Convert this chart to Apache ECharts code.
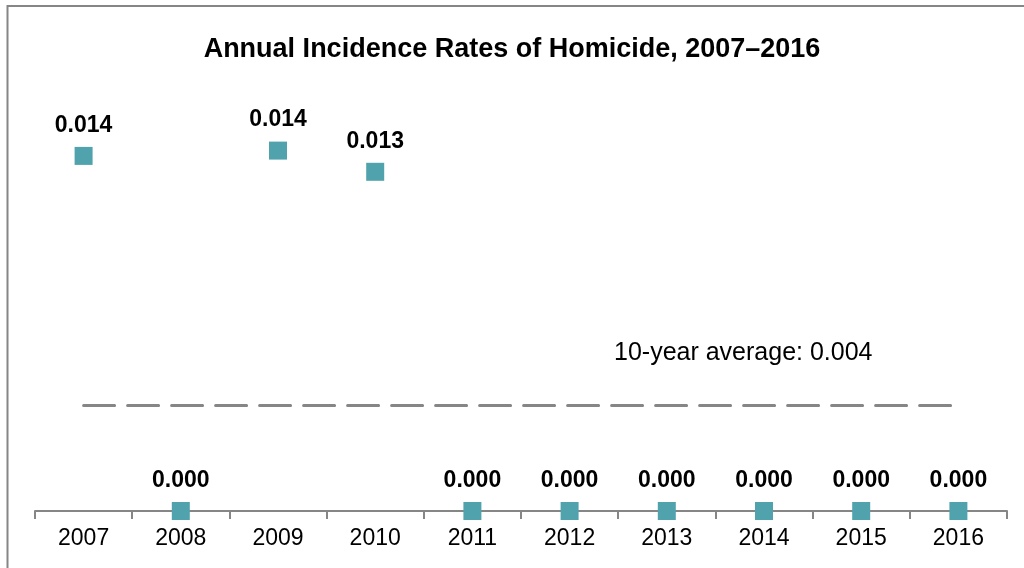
<!DOCTYPE html>
<html>
<head>
<meta charset="utf-8">
<script src="https://cdn.jsdelivr.net/npm/echarts@6/dist/echarts.min.js"></script>
<style>html,body{margin:0;padding:0;background:#fff}#c{width:1024px;height:568px}</style>
</head>
<body>
<div id="c"></div>
<script>
var years = ['2007','2008','2009','2010','2011','2012','2013','2014','2015','2016'];
var rates = [0.0134, 0, 0.0136, 0.0128, 0, 0, 0, 0, 0, 0];
var rateLabels = ['0.014','0.000','0.014','0.013','0.000','0.000','0.000','0.000','0.000','0.000'];
var average = 0.004;
var averageText = '10-year average: 0.004';
var titleText = 'Annual Incidence Rates of Homicide, 2007\u20132016';

var FONT = '"Liberation Sans", Arial, sans-serif';
var chart = echarts.init(document.getElementById('c'), null, {renderer:'canvas'});
chart.setOption({
  animation: false,
  backgroundColor: '#fff',
  title: {
    text: titleText, left: 'center', top: 31,
    textStyle: {fontFamily: FONT, fontSize: 27, fontWeight: 'bold', color: '#000'}
  },
  grid: {left: 35, right: 17, top: 87, bottom: 57},
  xAxis: {
    type: 'category', data: years, boundaryGap: true,
    axisLine: {lineStyle: {color: '#868686', width: 2}},
    axisTick: {show: true, length: 8, lineStyle: {color: '#868686', width: 2}},
    axisLabel: {margin: 16, fontFamily: FONT, fontSize: 23, color: '#000'},
    splitLine: {show: false}
  },
  yAxis: {type: 'value', min: 0, max: 0.016, show: false, splitLine: {show: false}},
  series: [{
    type: 'scatter', data: rates, symbol: 'rect', symbolSize: 18,
    itemStyle: {color: '#50A3AC', opacity: 1},
    label: {
      show: true, position: 'top', distance: 10,
      formatter: function(p){ return rateLabels[p.dataIndex]; },
      fontFamily: FONT, fontSize: 23, fontWeight: 'bold', color: '#000'
    },
    z: 5,
    markLine: {
      silent: true, symbol: ['none','none'],
      lineStyle: {color: '#868686', width: 3, type: [31,13], cap: 'round', opacity: 1},
      label: {show: false},
      emphasis: {disabled: true},
      data: [[{coord: [years[0], average]}, {coord: [years[years.length-1], average]}]]
    }
  }],
  graphic: [
    {type: 'rect', z: 0, silent: true,
     shape: {x: 7.5, y: 6, width: 1040, height: 600}, style: {fill: 'none', stroke: '#868686', lineWidth: 2}},
    {type: 'text', left: 614, top: 341, z: 10,
     style: {text: averageText, font: '25px "Liberation Sans", Arial, sans-serif', fill: '#000'}}
  ]
});
</script>
</body>
</html>
